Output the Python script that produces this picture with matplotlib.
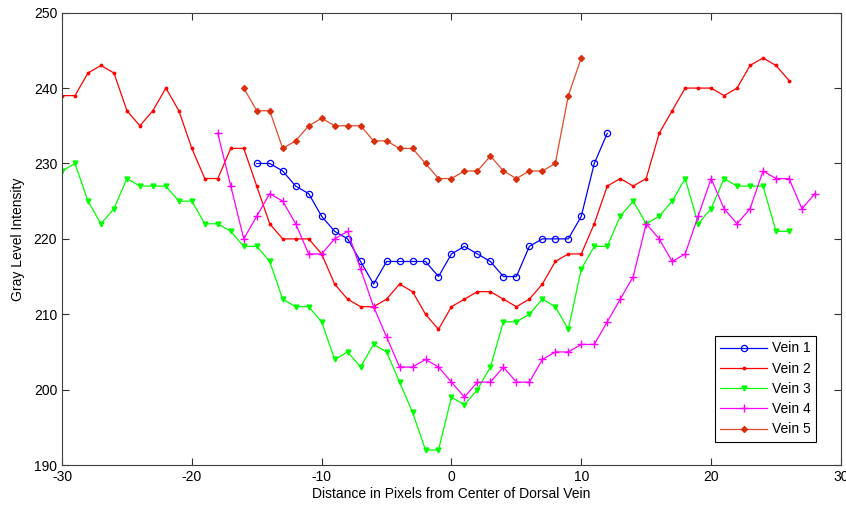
import numpy as np
import matplotlib
matplotlib.use('Agg')
from matplotlib import pyplot as plt

plt.rcParams['font.family'] = ['Liberation Sans', 'DejaVu Sans']
plt.rcParams['font.size'] = 10
plt.rcParams['axes.unicode_minus'] = False

# vein profiles, x = pixel offset from vein centre
x1 = list(range(-15, 13))
vein1 = [230, 230, 229, 227, 226, 223, 221, 220, 217, 214, 217, 217, 217, 217,
         215, 218, 219, 218, 217, 215, 215, 219, 220, 220, 220, 223, 230, 234]

x2 = list(range(-30, 27))
vein2 = [239, 239, 242, 243, 242, 237, 235, 237, 240, 237, 232, 228, 228, 232,
         232, 227, 222, 220, 220, 220, 218, 214, 212, 211, 211, 212, 214, 213,
         210, 208, 211, 212, 213, 213, 212, 211, 212, 214, 217, 218, 218, 222,
         227, 228, 227, 228, 234, 237, 240, 240, 240, 239, 240, 243, 244, 243, 241]

x3 = list(range(-30, 27))
vein3 = [229, 230, 225, 222, 224, 228, 227, 227, 227, 225, 225, 222, 222, 221,
         219, 219, 217, 212, 211, 211, 209, 204, 205, 203, 206, 205, 201, 197,
         192, 192, 199, 198, 200, 203, 209, 209, 210, 212, 211, 208, 216, 219,
         219, 223, 225, 222, 223, 225, 228, 222, 224, 228, 227, 227, 227, 221, 221]

x4 = list(range(-18, 29))
vein4 = [234, 227, 220, 223, 226, 225, 222, 218, 218, 220, 221, 216, 211, 207,
         203, 203, 204, 203, 201, 199, 201, 201, 203, 201, 201, 204, 205, 205,
         206, 206, 209, 212, 215, 222, 220, 217, 218, 223, 228, 224, 222, 224,
         229, 228, 228, 224, 226]

x5 = list(range(-16, 11))
vein5 = [240, 237, 237, 232, 233, 235, 236, 235, 235, 235, 233, 233, 232, 232,
         230, 228, 228, 229, 229, 231, 229, 228, 229, 229, 230, 239, 244]

fig = plt.figure(figsize=(8.46, 5.08), dpi=100)
ax = fig.add_axes([0.0733, 0.0846, 0.9207, 0.8904])

lw = 0.9
ax.plot(x1, vein1, color='#0000ff', marker='o', mfc='none', ms=4.5, mew=0.9, lw=lw, label='Vein 1')
ax.plot(x2, vein2, color='#ff0000', marker='.', ms=3.5, lw=lw, label='Vein 2')
ax.plot(x3, vein3, color='#00ff00', marker='v', ms=3.5, lw=lw, label='Vein 3')
ax.plot(x4, vein4, color='#ff00ff', marker='+', ms=6, mew=1, lw=lw, label='Vein 4')
ax.plot(x5, vein5, color='#e24a2a', marker='D', mfc='#d8300f', mec='#d8300f', ms=3,
        lw=lw, label='Vein 5')

ax.set_xlim(-30, 30)
ax.set_ylim(190, 250)
ax.set_xticks(np.arange(-30, 31, 10))
ax.set_yticks(np.arange(190, 251, 10))
ax.tick_params(direction='in', top=True, right=True, length=5, width=0.8, colors='#303030',
               labelcolor='black')
for s in ax.spines.values():
    s.set_color('#404040')
    s.set_linewidth(0.8)

ax.set_xlabel('Distance in Pixels from Center of Dorsal Vein', labelpad=2)
ax.set_ylabel('Gray Level Intensity', labelpad=6)

leg = ax.legend(loc='lower right', bbox_to_anchor=(0.968, 0.051), borderaxespad=0,
                fancybox=False, edgecolor='black', framealpha=1, handlelength=3.4,
                labelspacing=0.45, handletextpad=0.3, borderpad=0.4)
leg.get_frame().set_linewidth(0.8)

fig.savefig('out.png', dpi=100)
